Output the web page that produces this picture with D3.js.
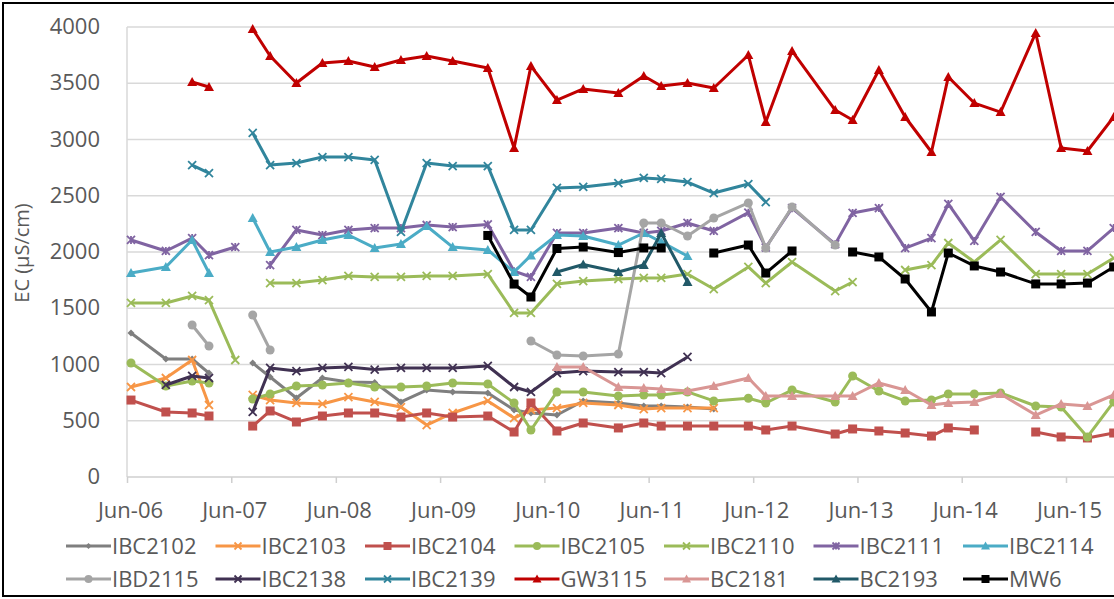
<!DOCTYPE html>
<html>
<head>
<meta charset="utf-8">
<script src="https://cdn.jsdelivr.net/npm/d3@7/dist/d3.min.js"></script>
<style>
  html, body { margin: 0; padding: 0; background: #fff; }
  svg { display: block; font-family: "Open Sans", "Noto Sans", sans-serif; }
</style>
</head>
<body>
<svg id="chart" width="1114" height="599"></svg>
<script>
// Sampling dates shared by all wells (mid-month)
const sampleDates = [
  "2006-06-15","2006-10-15","2007-01-15","2007-03-15","2007-06-15","2007-08-15","2007-10-15",
  "2008-01-15","2008-04-15","2008-07-15","2008-10-15","2009-01-15","2009-04-15","2009-07-15",
  "2009-11-15","2010-02-15","2010-04-15","2010-07-15","2010-10-15","2011-02-15","2011-05-15",
  "2011-07-15","2011-10-15","2012-01-15","2012-05-15","2012-07-15","2012-10-15","2013-03-15",
  "2013-05-15","2013-08-15","2013-11-15","2014-02-15","2014-04-15","2014-07-15","2014-10-15",
  "2015-02-15","2015-05-15","2015-08-15","2015-11-15"
];

const tickLabels = ["Jun-06","Jun-07","Jun-08","Jun-09","Jun-10","Jun-11","Jun-12","Jun-13","Jun-14","Jun-15"];
const yTicks = [0, 500, 1000, 1500, 2000, 2500, 3000, 3500, 4000];
const yTitle = "EC (µS/cm)";

const seriesNames = ["IBC2102","IBC2103","IBC2104","IBC2105","IBC2110","IBC2111","IBC2114",
                     "IBD2115","IBC2138","IBC2139","GW3115","BC2181","BC2193","MW6"];

// EC readings (µS/cm), aligned with sampleDates; null = not sampled
const IBC2102 = [1280,1049,1049,924,null,1013,889,702,880,844,840,667,773,756,747,596,569,551,676,658,631,631,622,604,
  null,null,null,null,null,null,null,null,null,null,null,null,null,null,null];
const IBC2103 = [800,880,1040,640,null,729,684,658,649,711,667,622,462,569,676,524,596,613,658,640,604,613,613,613,
  null,null,null,null,null,null,null,null,null,null,null,null,null,null,null];
const IBC2104 = [684,578,569,542,null,453,587,489,542,569,569,533,569,533,542,400,658,409,480,436,480,453,453,453,
  453,418,453,382,427,409,391,364,436,418,null,400,356,347,391];
const IBC2105 = [1013,809,853,836,null,693,738,809,818,836,800,800,809,836,827,658,418,756,756,720,729,729,756,676,
  700,658,773,667,898,764,676,684,738,738,747,631,622,356,667];
const IBC2110 = [1547,1547,1609,1573,1040,null,1724,1724,1751,1787,1778,1778,1787,1787,1804,1458,1458,1716,1742,1760,
  1769,1769,1804,1671,1867,1724,1911,1653,1733,null,1840,1884,2080,1911,2107,1804,1804,1804,1947];
const IBC2111 = [2107,2009,2124,1973,2044,null,1884,2196,2151,2196,2213,2213,2240,2222,2245,1830,1778,2169,2169,2213,
  2169,2187,2258,2187,2350,2040,2390,2070,2347,2391,2035,2124,2427,2098,2489,2178,2009,2009,2213];
const IBC2114 = [1813,1867,2107,1813,null,2302,2000,2044,2107,2151,2036,2071,2231,2044,2018,1822,1970,2151,2142,2062,
  2169,2090,1964,null,null,null,null,null,null,null,null,null,null,null,null,null,null,null,null];
const IBD2115 = [null,null,1351,1164,null,1440,1129,null,null,null,null,null,null,null,null,null,1209,1084,1076,1093,
  2258,2258,2142,2302,2436,2036,2400,2062,null,null,null,null,null,null,null,null,null,null,null];
const IBC2138 = [null,818,898,880,null,578,969,942,969,978,955,969,969,969,987,800,756,924,942,933,933,924,1067,
  null,null,null,null,null,null,null,null,null,null,null,null,null,null,null,null];
const IBC2139 = [null,null,2773,2702,null,3058,2773,2791,2844,2844,2818,2178,2791,2764,2764,2196,2196,2569,2578,2613,
  2658,2649,2622,2524,2604,2444,null,null,null,null,null,null,null,null,null,null,null,null,null];
const GW3115 = [null,null,3511,3467,null,3982,3742,3502,3680,3698,3645,3707,3742,3698,3636,2924,3653,3351,3449,3413,
  3564,3476,3502,3458,3751,3156,3787,3262,3173,3618,3200,2889,3556,3324,3244,3947,2924,2898,3200];
const BC2181 = [null,null,null,null,null,null,null,null,null,null,null,null,null,null,null,null,null,978,978,800,
  791,782,764,809,880,720,720,720,720,836,773,640,658,667,738,551,649,631,729];
const BC2193 = [null,null,null,null,null,null,null,null,null,null,null,null,null,null,null,null,null,1822,1889,1822,
  1884,2169,1733,null,null,null,null,null,null,null,null,null,null,null,null,null,null,null,null];
const MW6 = [null,null,null,null,null,null,null,null,null,null,null,null,null,null,2147,1715,1600,2031,2044,1995,
  2036,2036,null,1991,2062,1813,2009,null,2000,1956,1760,1467,1991,1876,1822,1716,1716,1724,1867];

const seriesValues = [IBC2102, IBC2103, IBC2104, IBC2105, IBC2110, IBC2111, IBC2114,
                      IBD2115, IBC2138, IBC2139, GW3115, BC2181, BC2193, MW6];

// Appearance of each well's line and marker
const seriesColors = ["#7F7F7F","#F79646","#C0504D","#9BBB59","#9BBB59","#8064A2","#4BACC6",
                      "#A5A5A5","#403152","#31859C","#C00000","#D99694","#215968","#000000"];
const seriesMarkers = ["diamond","x","square","circle","x","star","triangle",
                       "circle","x","x","triangle","triangle","triangle","square"];

const svg = d3.select("#chart");
const W = 1114, H = 599;
const textColor = "#595959";
const gridColor = "#D9D9D9";

svg.append("rect").attr("width", W).attr("height", H).attr("fill", "#fff");

const parseDate = d3.timeParse("%Y-%m-%d");
const parseTick = d3.timeParse("%b-%y");
const tickDates = tickLabels.map(parseTick);

const x = d3.scaleTime()
  .domain([tickDates[0], tickDates[tickDates.length - 1]])
  .range([127, 1066]);
const y = d3.scaleLinear().domain([0, 4000]).range([477, 27]);

// Horizontal gridlines
svg.append("g").selectAll("line")
  .data(yTicks.filter(v => v > 0))
  .join("line")
  .attr("x1", 127).attr("x2", W)
  .attr("y1", d => y(d)).attr("y2", d => y(d))
  .attr("stroke", gridColor).attr("stroke-width", 1.5);

// Vertical value axis line
svg.append("line")
  .attr("x1", 127).attr("x2", 127).attr("y1", y(4000)).attr("y2", y(0))
  .attr("stroke", gridColor).attr("stroke-width", 1.5);

// Value axis labels
const yAxis = d3.axisLeft(y).tickValues(yTicks).tickSize(0).tickPadding(27).tickFormat(d3.format("d"));
const gy = svg.append("g").attr("transform", "translate(127,0)").call(yAxis);
gy.select(".domain").remove();
gy.selectAll("text")
  .attr("fill", textColor).attr("font-size", 22)
  .attr("font-family", "'Open Sans', sans-serif")
  .attr("dy", "0.3em");

// Date axis
const xAxis = d3.axisBottom(x).tickValues(tickDates).tickSize(6).tickPadding(0)
  .tickFormat((d, i) => tickLabels[i]);
const gx = svg.append("g").attr("transform", `translate(0,${y(0)})`).call(xAxis);
gx.select(".domain").remove();
svg.append("line")
  .attr("x1", 127).attr("x2", W).attr("y1", y(0)).attr("y2", y(0))
  .attr("stroke", "#CFCFCF").attr("stroke-width", 1.5);
gx.selectAll(".tick line").attr("stroke", "#CFCFCF").attr("stroke-width", 1.5);
gx.selectAll("text")
  .attr("fill", textColor).attr("font-size", 22)
  .attr("font-family", "'Open Sans', sans-serif")
  .attr("y", 41).attr("dy", 0).attr("dx", 3);

// Value axis title
svg.append("text")
  .attr("transform", "translate(29,253) rotate(-90)")
  .attr("text-anchor", "middle")
  .attr("fill", textColor).attr("font-size", 20)
  .text(yTitle);

// Marker drawing
function drawMarker(g, shape, color, cx, cy, s) {
  const h = s / 2;
  if (shape === "square") {
    g.append("rect").attr("x", cx - h).attr("y", cy - h).attr("width", s).attr("height", s)
      .attr("fill", color);
  } else if (shape === "circle") {
    g.append("circle").attr("cx", cx).attr("cy", cy).attr("r", h).attr("fill", color);
  } else if (shape === "triangle") {
    g.append("path")
      .attr("d", `M${cx},${cy - h - 1}L${cx + h + 1},${cy + h}L${cx - h - 1},${cy + h}Z`)
      .attr("fill", color);
  } else if (shape === "diamond") {
    g.append("path")
      .attr("d", `M${cx},${cy - h}L${cx + h},${cy}L${cx},${cy + h}L${cx - h},${cy}Z`)
      .attr("fill", color);
  } else if (shape === "x" || shape === "star") {
    let d = `M${cx - h},${cy - h}L${cx + h},${cy + h}M${cx + h},${cy - h}L${cx - h},${cy + h}`;
    if (shape === "star") d += `M${cx},${cy - h}L${cx},${cy + h}`;
    g.append("path").attr("d", d).attr("stroke", color).attr("stroke-width", 1.8).attr("fill", "none");
  }
}
const markerSize = { square: 9, circle: 9, triangle: 8, diamond: 7, x: 8, star: 8 };

// Plot area clip
svg.append("clipPath").attr("id", "plotClip")
  .append("rect").attr("x", 100).attr("y", 0).attr("width", W - 100).attr("height", 500);

const plot = svg.append("g").attr("clip-path", "url(#plotClip)");
const line = d3.line()
  .defined(d => d.v != null)
  .x(d => x(d.date)).y(d => y(d.v));

seriesNames.forEach((name, i) => {
  const pts = sampleDates.map((s, k) => ({ date: parseDate(s), v: seriesValues[i][k] }));
  const g = plot.append("g").attr("class", "series");
  g.append("path")
    .attr("d", line(pts))
    .attr("fill", "none")
    .attr("stroke", seriesColors[i])
    .attr("stroke-width", 3)
    .attr("stroke-linejoin", "round");
  pts.filter(p => p.v != null).forEach(p => {
    drawMarker(g, seriesMarkers[i], seriesColors[i], x(p.date), y(p.v), markerSize[seriesMarkers[i]]);
  });
});

// Legend: two rows of seven
const legend = svg.append("g");
seriesNames.forEach((name, i) => {
  const row = Math.floor(i / 7), col = i % 7;
  const x0 = 66 + col * 149.5;
  const yy = row === 0 ? 546 : 579;
  const g = legend.append("g");
  g.append("line").attr("x1", x0).attr("x2", x0 + 45).attr("y1", yy).attr("y2", yy)
    .attr("stroke", seriesColors[i]).attr("stroke-width", 3);
  drawMarker(g, seriesMarkers[i], seriesColors[i], x0 + 22.5, yy, markerSize[seriesMarkers[i]] - 1);
  g.append("text").attr("x", x0 + 46).attr("y", yy).attr("dy", "0.36em")
    .attr("fill", textColor).attr("font-size", 22).text(name);
});

// Chart frame
svg.append("rect")
  .attr("x", 3).attr("y", 3).attr("width", W + 20).attr("height", 593)
  .attr("fill", "none").attr("stroke", "#000").attr("stroke-width", 2);
</script>
</body>
</html>
